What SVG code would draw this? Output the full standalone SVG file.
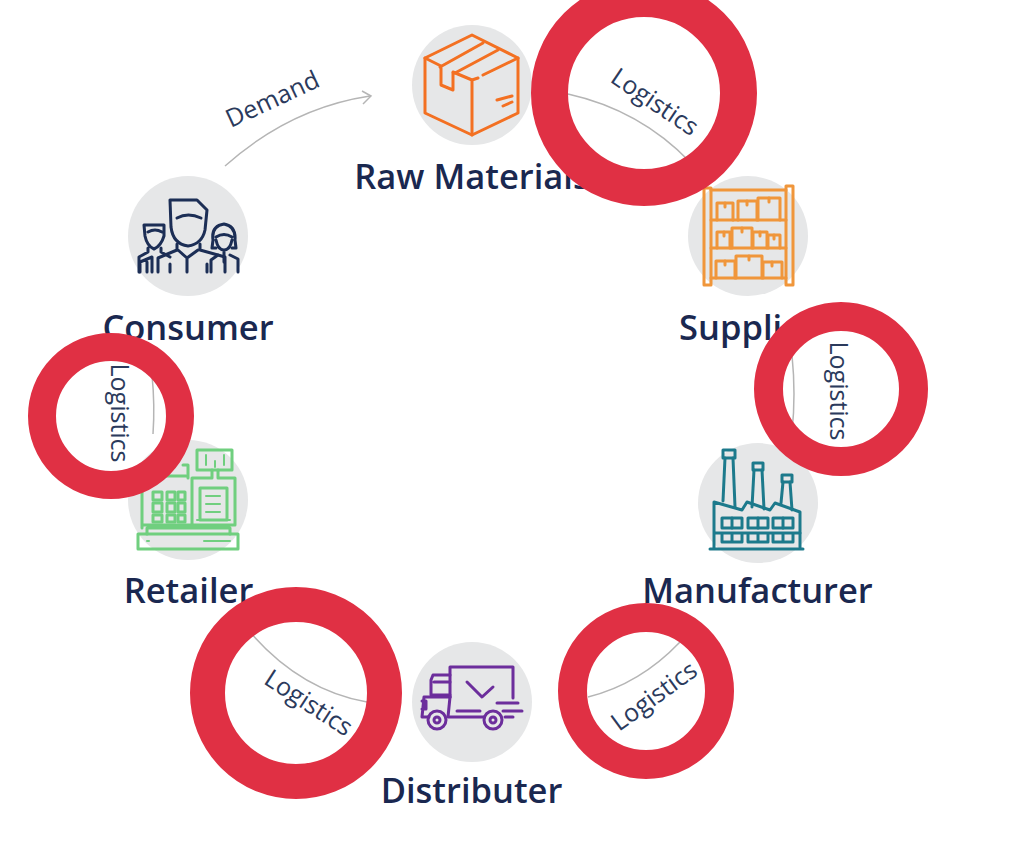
<svg xmlns="http://www.w3.org/2000/svg" width="1024" height="851" viewBox="0 0 1024 851">
<defs><filter id="soft" x="-5%" y="-5%" width="110%" height="110%"><feGaussianBlur stdDeviation="0.45"/></filter></defs>
<style>
.bg{fill:#e6e7e8}
.lab{font-family:"Open Sans",sans-serif;font-weight:600;font-size:34.5px;fill:#1a2850;text-anchor:middle}
.sm{font-family:"Open Sans",sans-serif;font-size:25px;fill:#2b3a5c;text-anchor:middle}
.ic{fill:none;stroke-width:3;stroke-linejoin:round;stroke-linecap:round;filter:url(#soft)}
.con{fill:none;stroke:#b5b5b5;stroke-width:1.5}
.ring{fill:none;stroke:#e03044}
</style>
<rect width="1024" height="851" fill="#ffffff"/>
<g id="connectors">
<path class="con" d="M225 166Q290 108 370 96"/>
<path class="con" d="M362 91L371 96L363 104"/>
<path class="con" d="M568 94Q640 110 690 162"/>
<path class="con" d="M792 355Q796 395 792 432"/>
<path class="con" d="M680 642Q640 684 588 697"/>
<path class="con" d="M367 702Q300 690 250 632"/>
<path class="con" d="M152 375Q155 405 153 434"/>
</g>
<g id="raw-materials">
<circle class="bg" cx="472" cy="85" r="60"/>
<g class="ic" stroke="#f37021">
<path d="M425 58L472 35L518 58V113L472 135L425 113Z"/>
<path d="M425 58L441 66M453 72L472 80V135M472 80L478 78M483 75L518 58"/>
<path d="M440 67L483 43M455 73L498 50M441 67V85L453 90V73"/>
<path d="M497 100L512 96M503 106L512 102"/>
</g>
<text class="lab" x="472" y="189">Raw Materials</text>
</g>
<g id="supplier">
<circle class="bg" cx="748" cy="236" r="60"/>
<g class="ic" stroke="#f0963a">
<rect x="704" y="188" width="7" height="97"/>
<rect x="786" y="186" width="7" height="99"/>
<path d="M711 190H786M711 220H786M711 248H786M711 278H786"/>
<path d="M717 220V203H733V220M738 220V201H757V220M758 220V198H780V220"/>
<path d="M717 248V232H730V248M732 248V228H752V248M753 248V232H767V248M768 248V235H780V248"/>
<path d="M716 278V261H735V278M736 278V256H762V278M763 278V262H782V278"/>
<path d="M725 203V207M747 201V205M769 198V202M724 232V236M742 228V232M760 232V236M774 235V239M725 261V265M749 256V260M772 262V266"/>
</g>
<text class="lab" x="748" y="340">Supplier</text>
</g>
<g id="manufacturer">
<circle class="bg" cx="758" cy="503" r="60"/>
<g class="ic" stroke="#1f7a8c">
<path d="M710 549H803M714 548V502L742 510L747 502L770 510L775 503L800 512V548"/>
<path d="M723 501L725 458M733 458L735 507M752 507L754 470M762 470L764 509M781 503L783 482M790 482L792 510"/>
<path d="M723 450H735V458H723ZM753 463H763V470H753ZM782 475H792V482H782Z"/>
<rect x="722" y="518" width="20" height="10"/><rect x="748" y="518" width="20" height="10"/><rect x="773" y="518" width="20" height="10"/>
<path d="M732 518V528M758 518V528M783 518V528M715 533H800M722 533V542H742V533M748 533V542H768V533M773 533V542H793V533M732 533V542M758 533V542M783 533V542"/>
</g>
<text class="lab" x="757.500" y="603">Manufacturer</text>
</g>
<g id="distributer">
<circle class="bg" cx="472" cy="702" r="60"/>
<g class="ic" stroke="#6c2d9c">
<path d="M450 697V667H513V698"/>
<path d="M467 682L482 697L493 687"/>
<path d="M450 675H433L431 680V695H450M434 682H450"/>
<path d="M450 697H424L422 717H429M422 701H426V709H422"/>
<path d="M448 717L450 697M450 717H484M457 711H480M497 703H518M503 711H522M505 717H513"/>
<circle cx="437" cy="720" r="9"/><circle cx="437" cy="720" r="3"/>
<circle cx="493" cy="720" r="9"/><circle cx="493" cy="720" r="3"/>
</g>
<text class="lab" x="471.500" y="803">Distributer</text>
</g>
<g id="retailer">
<circle class="bg" cx="188" cy="500" r="60"/>
<g class="ic" stroke="#6fcf7f">
<rect x="138" y="534" width="100" height="15"/>
<path d="M147 534V528H230V534M142 528V476H186M183 465H188V478M192 478V525M192 478H212V470M218 470V478H235V525H142"/>
<rect x="197" y="450" width="35" height="20"/>
<rect x="200" y="488" width="27" height="32"/>
<path d="M197 520H230M206 496H220M206 504H220M206 512H220M206 455V465M224 455V465M215 461V467M147 541H149M204 541H230" stroke-width="2"/>
<rect x="153" y="492" width="9" height="8"/><rect x="167" y="492" width="8" height="8"/><rect x="178" y="492" width="7" height="8"/>
<rect x="153" y="503" width="9" height="9"/><rect x="167" y="503" width="8" height="9"/><rect x="178" y="503" width="7" height="9"/>
<rect x="153" y="515" width="9" height="7"/><rect x="167" y="515" width="8" height="7"/><rect x="178" y="515" width="7" height="7"/>
</g>
<text class="lab" x="188.500" y="603">Retailer</text>
</g>
<g id="consumer">
<circle class="bg" cx="188" cy="236" r="60"/>
<g class="ic" stroke="#1b2d55">
<path d="M170 200H197L207 210L205 230Q202 244 188 246Q173 244 171 227Z"/>
<path d="M177 218Q188 212 201 218"/>
<path d="M177 244V250L158 258V272M200 244V250L225 257V272M178 250L187 258L198 250M187 258V272M170 264V272M207 264V272M152 272V257L140 262V272M147 262V272"/>
<path d="M144 225H164V236Q161 246 154 249Q147 246 145 236ZM148 232Q155 228 162 232M148 248V252L139 257V272M161 248V252L170 257"/>
<path d="M213 240Q211 226 224 224Q236 226 235 240L236 248H232M213 240L212 248H216M216 237Q224 232 232 237M216 240Q218 250 224 250Q230 250 232 240M224 250V262M230 255L238 259V272M218 255L211 260V272"/>
</g>
<text class="lab" x="188" y="340">Consumer</text>
</g>
<g id="annotations">
<text class="sm" transform="translate(276 107) rotate(-25)">Demand</text>
<text class="sm" transform="translate(650 109) rotate(34)">Logistics</text>
<text class="sm" transform="translate(830 391) rotate(90)">Logistics</text>
<text class="sm" transform="translate(111 413) rotate(90)">Logistics</text>
<text class="sm" transform="translate(659 703) rotate(-36)">Logistics</text>
<text class="sm" transform="translate(304 710) rotate(33)">Logistics</text>
</g>
<g id="rings">
<circle class="ring" cx="644" cy="93" r="94.500" stroke-width="37"/>
<circle class="ring" cx="841" cy="389" r="72.500" stroke-width="29"/>
<circle class="ring" cx="111" cy="416" r="69" stroke-width="28"/>
<circle class="ring" cx="296" cy="693" r="88.500" stroke-width="35"/>
<circle class="ring" cx="646" cy="691" r="73.500" stroke-width="29"/>
</g>
</svg>
